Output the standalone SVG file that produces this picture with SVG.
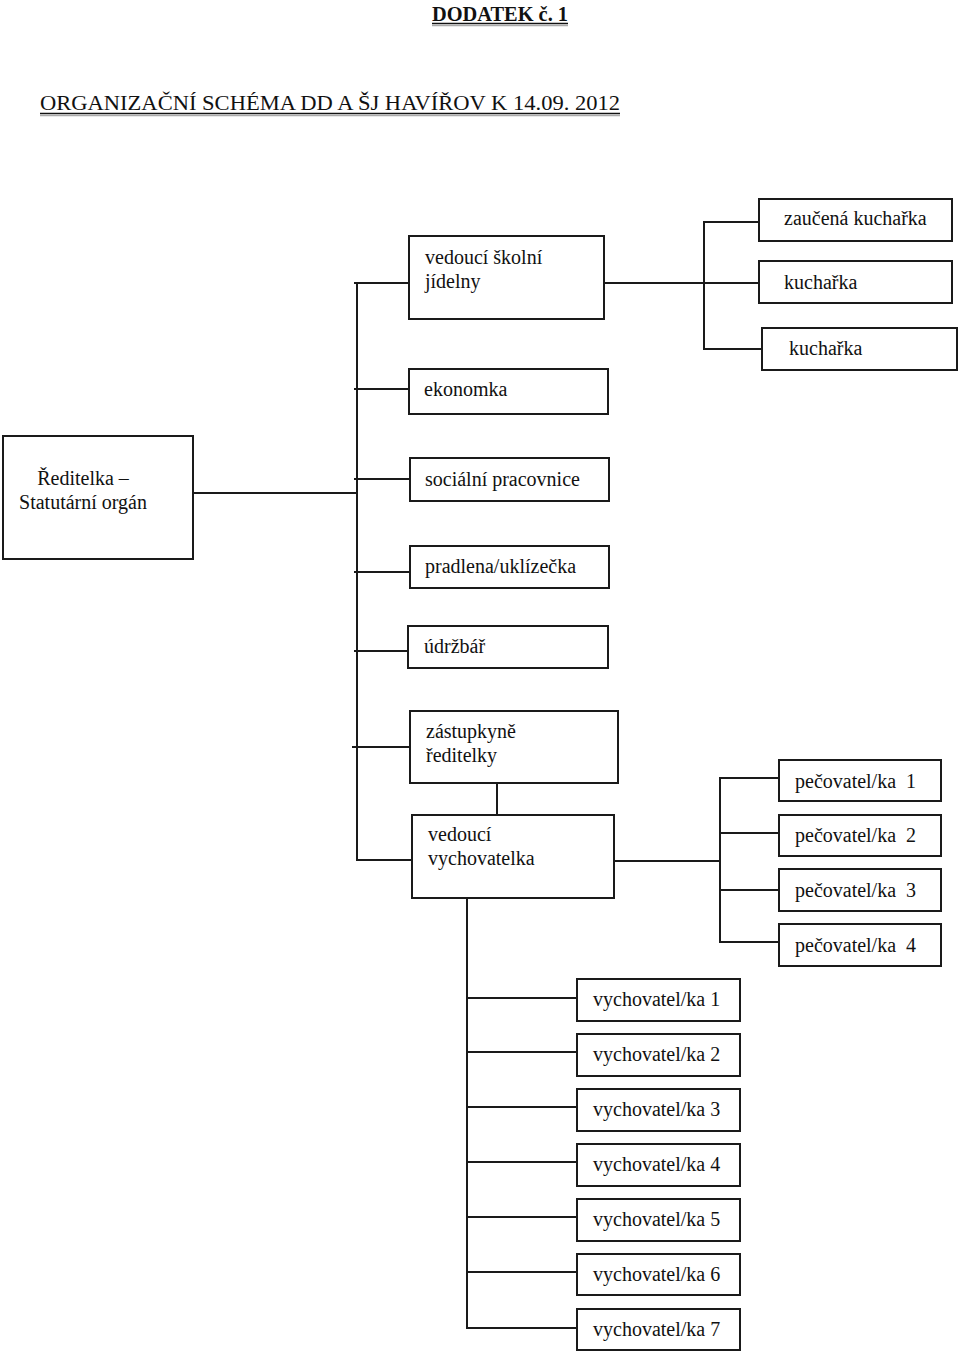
<svg xmlns="http://www.w3.org/2000/svg" width="960" height="1354" viewBox="0 0 960 1354">
<style>
  .box { fill: #fff; stroke: #1a1a1a; stroke-width: 2; }
  .t { font-family: "Liberation Serif", "Times New Roman", serif; font-size: 20px; fill: #111; }
  .tc { text-anchor: middle; }
  .pre { white-space: pre; }
  .c line { stroke: #1a1a1a; stroke-width: 2; }
  .ul { stroke: #111; stroke-width: 1.6; }
  .ulg { stroke: #aaa; stroke-width: 1.6; }
</style>
<rect width="960" height="1354" fill="#fff"/>

<g id="title">
  <text x="432" y="21" class="t" style="font-weight:bold" textLength="136" lengthAdjust="spacingAndGlyphs">DODATEK č. 1</text>
  <line x1="432" y1="23.5" x2="568" y2="23.5" class="ul"/>
  <line x1="432" y1="25.5" x2="568" y2="25.5" class="ulg"/>
  <text x="40" y="110" class="t" style="font-size:22px" textLength="580" lengthAdjust="spacingAndGlyphs">ORGANIZAČNÍ SCHÉMA DD A ŠJ HAVÍŘOV K 14.09. 2012</text>
  <line x1="40" y1="113.5" x2="620" y2="113.5" class="ul"/>
  <line x1="40" y1="115.5" x2="620" y2="115.5" class="ulg"/>
</g>

<g class="c" id="connectors">
  <!-- main spine -->
  <line x1="357" y1="282" x2="357" y2="861"/>
  <line x1="193" y1="493" x2="357" y2="493"/>
  <line x1="354" y1="283" x2="409" y2="283"/>
  <line x1="354" y1="389" x2="409" y2="389"/>
  <line x1="354" y1="479" x2="410" y2="479"/>
  <line x1="354" y1="572" x2="410" y2="572"/>
  <line x1="354" y1="651" x2="408" y2="651"/>
  <line x1="352" y1="747" x2="410" y2="747"/>
  <line x1="356" y1="860" x2="412" y2="860"/>
  <!-- kitchen bracket -->
  <line x1="604" y1="283" x2="762" y2="283"/>
  <line x1="704" y1="222" x2="704" y2="350"/>
  <line x1="703" y1="222" x2="759" y2="222"/>
  <line x1="704" y1="349" x2="762" y2="349"/>
  <!-- zastupkyne to vedouci -->
  <line x1="497" y1="783" x2="497" y2="815"/>
  <!-- pecovatel bracket -->
  <line x1="615" y1="861" x2="720" y2="861"/>
  <line x1="720" y1="777" x2="720" y2="943"/>
  <line x1="719" y1="778" x2="779" y2="778"/>
  <line x1="719" y1="833" x2="779" y2="833"/>
  <line x1="719" y1="890" x2="779" y2="890"/>
  <line x1="719" y1="942" x2="779" y2="942"/>
  <!-- vychovatel bracket -->
  <line x1="467" y1="898" x2="467" y2="1329"/>
  <line x1="466" y1="998" x2="576" y2="998"/>
  <line x1="466" y1="1052" x2="576" y2="1052"/>
  <line x1="466" y1="1107" x2="576" y2="1107"/>
  <line x1="466" y1="1162" x2="576" y2="1162"/>
  <line x1="466" y1="1217" x2="576" y2="1217"/>
  <line x1="466" y1="1272" x2="576" y2="1272"/>
  <line x1="466" y1="1328" x2="576" y2="1328"/>
</g>

<g id="reditelka">
  <rect class="box" x="3" y="436" width="190" height="123"/>
  <text class="t tc" x="83" y="485">Ředitelka –</text>
  <text class="t tc" x="83" y="509">Statutární orgán</text>
</g>

<g id="vedouci-sj">
  <rect class="box" x="409" y="236" width="195" height="83"/>
  <text class="t" x="425" y="264">vedoucí školní</text>
  <text class="t" x="425" y="288">jídelny</text>
</g>

<g id="zaucena-kucharka">
  <rect class="box" x="759" y="199" width="193" height="42"/>
  <text class="t" x="784" y="225">zaučená kuchařka</text>
</g>
<g id="kucharka-1">
  <rect class="box" x="759" y="261" width="193" height="42"/>
  <text class="t" x="784" y="289">kuchařka</text>
</g>
<g id="kucharka-2">
  <rect class="box" x="762" y="328" width="195" height="42"/>
  <text class="t" x="789" y="355">kuchařka</text>
</g>

<g id="ekonomka">
  <rect class="box" x="409" y="369" width="199" height="45"/>
  <text class="t" x="424" y="396">ekonomka</text>
</g>
<g id="socialni">
  <rect class="box" x="410" y="458" width="199" height="43"/>
  <text class="t" x="425" y="486">sociální pracovnice</text>
</g>
<g id="pradlena">
  <rect class="box" x="410" y="546" width="199" height="42"/>
  <text class="t" x="425" y="573">pradlena/uklízečka</text>
</g>
<g id="udrzbar">
  <rect class="box" x="408" y="626" width="200" height="42"/>
  <text class="t" x="424" y="653">údržbář</text>
</g>

<g id="zastupkyne">
  <rect class="box" x="410" y="711" width="208" height="72"/>
  <text class="t" x="426" y="738">zástupkyně</text>
  <text class="t" x="426" y="762">ředitelky</text>
</g>
<g id="vedouci-vych">
  <rect class="box" x="412" y="815" width="202" height="83"/>
  <text class="t" x="428" y="841">vedoucí</text>
  <text class="t" x="428" y="865">vychovatelka</text>
</g>

<g id="pecovatel-1">
  <rect class="box" x="779" y="760" width="162" height="41"/>
  <text class="t pre" x="795" y="788">pečovatel/ka  1</text>
</g>
<g id="pecovatel-2">
  <rect class="box" x="779" y="815" width="162" height="41"/>
  <text class="t pre" x="795" y="842">pečovatel/ka  2</text>
</g>
<g id="pecovatel-3">
  <rect class="box" x="779" y="869" width="162" height="42"/>
  <text class="t pre" x="795" y="897">pečovatel/ka  3</text>
</g>
<g id="pecovatel-4">
  <rect class="box" x="779" y="924" width="162" height="42"/>
  <text class="t pre" x="795" y="952">pečovatel/ka  4</text>
</g>

<g id="vychovatel-1">
  <rect class="box" x="577" y="979" width="163" height="42"/>
  <text class="t" x="593" y="1006">vychovatel/ka 1</text>
</g>
<g id="vychovatel-2">
  <rect class="box" x="577" y="1034" width="163" height="42"/>
  <text class="t" x="593" y="1061">vychovatel/ka 2</text>
</g>
<g id="vychovatel-3">
  <rect class="box" x="577" y="1089" width="163" height="42"/>
  <text class="t" x="593" y="1116">vychovatel/ka 3</text>
</g>
<g id="vychovatel-4">
  <rect class="box" x="577" y="1144" width="163" height="42"/>
  <text class="t" x="593" y="1171">vychovatel/ka 4</text>
</g>
<g id="vychovatel-5">
  <rect class="box" x="577" y="1199" width="163" height="42"/>
  <text class="t" x="593" y="1226">vychovatel/ka 5</text>
</g>
<g id="vychovatel-6">
  <rect class="box" x="577" y="1254" width="163" height="41"/>
  <text class="t" x="593" y="1281">vychovatel/ka 6</text>
</g>
<g id="vychovatel-7">
  <rect class="box" x="577" y="1309" width="163" height="41"/>
  <text class="t" x="593" y="1336">vychovatel/ka 7</text>
</g>
</svg>
